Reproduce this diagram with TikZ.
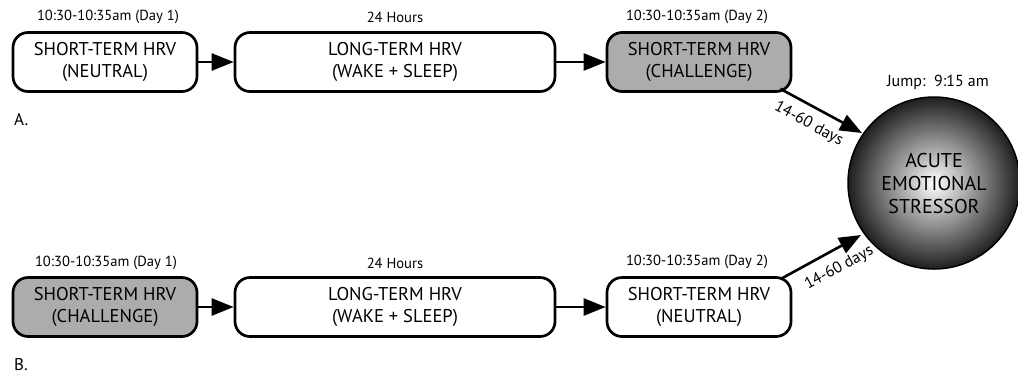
\documentclass[tikz,border=0pt]{standalone}
\usepackage{fontspec}
\setmainfont{PT Sans}
\usetikzlibrary{arrows.meta,shapes.geometric}
\definecolor{boxgray}{RGB}{172,172,172}
\tikzset{
  hrvbox/.style={draw=black, line width=2.7pt, rounded corners=15pt, align=center,
    font=\fontsize{18.5}{21.5}\selectfont, inner sep=0pt, minimum height=59pt},
  shortbox/.style={hrvbox, minimum width=184pt},
  longbox/.style={hrvbox, minimum width=320pt},
  grayfill/.style={fill=boxgray},
  toplabel/.style={font=\fontsize{14.6}{17}\selectfont, inner sep=0pt},
  flow/.style={line width=2.6pt, -{Triangle[length=22pt,width=17pt]}},
  daylabel/.style={font=\fontsize{16}{19}\selectfont, inner sep=0pt},
}
\begin{document}
\begin{tikzpicture}[x=1pt,y=-1pt]
\useasboundingbox (0,0) rectangle (1018,376);
% top row
\node[shortbox] (a1) at (105,62) {SHORT-TERM HRV\\(NEUTRAL)};
\node[longbox] (a2) at (395,62) {LONG-TERM HRV\\(WAKE + SLEEP)};
\node[shortbox,grayfill] (a3) at (699,62) {SHORT-TERM HRV\\(CHALLENGE)};
\node[toplabel] (ta1) at (108,17) {10:30-10:35am (Day 1)};
\node[toplabel] (ta2) at (395,17) {24 Hours};
\node[toplabel] (ta3) at (697,17) {10:30-10:35am (Day 2)};
\node[font=\fontsize{17}{20}\selectfont, anchor=west, inner sep=0pt] (la) at (14,120) {A.};
% bottom row
\node[shortbox,grayfill] (b1) at (105,307) {SHORT-TERM HRV\\(CHALLENGE)};
\node[longbox] (b2) at (395,307) {LONG-TERM HRV\\(WAKE + SLEEP)};
\node[shortbox] (b3) at (699,307) {SHORT-TERM HRV\\(NEUTRAL)};
\node[toplabel] (tb1) at (106,263) {10:30-10:35am (Day 1)};
\node[toplabel] (tb2) at (395,263) {24 Hours};
\node[toplabel] (tb3) at (697,262) {10:30-10:35am (Day 2)};
\node[font=\fontsize{17}{20}\selectfont, anchor=west, inner sep=0pt] (lb) at (14,365) {B.};
% circle
\node[circle, draw=black, line width=1.5pt, minimum size=172pt, inner sep=0pt,
  inner color=white, outer color=black!88, align=center,
  font=\fontsize{20}{23}\selectfont] (c) at (934,183) {ACUTE\\EMOTIONAL\\STRESSOR};
\node[font=\fontsize{16}{19}\selectfont, inner sep=0pt] (jump) at (938,82) {Jump:\ \ 9:15 am};
% arrows
\draw[flow] (a1.east) -- (a2.west);
\draw[flow] (a2.east) -- (a3.west);
\draw[flow] (b1.east) -- (b2.west);
\draw[flow] (b2.east) -- (b3.west);
\coordinate (ca) at (862,133);
\coordinate (cb) at (861,235);
\draw[flow] (a3.south east) ++(-12,-4) coordinate (sa) -- (ca);
\draw[flow] (b3.north east) ++(-12,3) coordinate (sb) -- (cb);
\path (sa) -- (ca) node[pos=0.45, sloped, below=10pt, daylabel] {14-60 days};
\path (sb) -- (cb) node[pos=0.62, sloped, below=11pt, daylabel] {14-60 days};
\end{tikzpicture}
\end{document}
